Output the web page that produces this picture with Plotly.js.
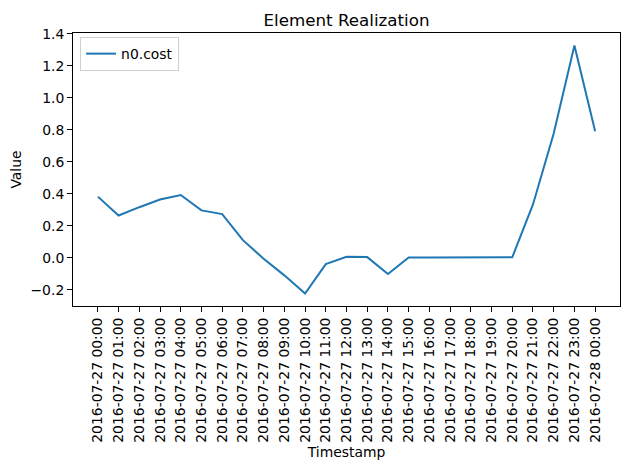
<!DOCTYPE html>
<html><head><meta charset="utf-8">
<script src="https://cdn.plot.ly/plotly-3.0.1.min.js"></script>
<style>body{margin:0;padding:0;background:#fff}</style>
</head><body>
<div id="chart" style="width:630px;height:470px"></div>
<script>
const timestamps = [
  "2016-07-27 00:00","2016-07-27 01:00","2016-07-27 02:00","2016-07-27 03:00",
  "2016-07-27 04:00","2016-07-27 05:00","2016-07-27 06:00","2016-07-27 07:00",
  "2016-07-27 08:00","2016-07-27 09:00","2016-07-27 10:00","2016-07-27 11:00",
  "2016-07-27 12:00","2016-07-27 13:00","2016-07-27 14:00","2016-07-27 15:00",
  "2016-07-27 16:00","2016-07-27 17:00","2016-07-27 18:00","2016-07-27 19:00",
  "2016-07-27 20:00","2016-07-27 21:00","2016-07-27 22:00","2016-07-27 23:00",
  "2016-07-28 00:00"
];
const costValues = [
  0.382, 0.264, 0.316, 0.364, 0.392, 0.296, 0.273, 0.110,
  -0.006, -0.110, -0.224, -0.040, 0.006, 0.004, -0.101, 0.002,
  0.001, 0.001, 0.002, 0.003, 0.003, 0.333, 0.776, 1.327,
  0.790
];
const seriesName = "n0.cost";
const yTicks = [-0.2, 0.0, 0.2, 0.4, 0.6, 0.8, 1.0, 1.2, 1.4];

const font = {family: "DejaVu Sans", size: 13.9, color: "#000"};
const trace = {
  x: timestamps, y: costValues, type: "scatter", mode: "lines",
  name: seriesName, line: {color: "#1f77b4", width: 2}
};
const layout = {
  width: 630, height: 470,
  margin: {l: 73, r: 10, t: 33, b: 164, pad: 0},
  paper_bgcolor: "#fff", plot_bgcolor: "#fff",
  font: font,
  title: {text: "Element Realization", font: {family: "DejaVu Sans", size: 16.7, color: "#000"},
          x: 0.5, xref: "paper", y: 1, yref: "paper", yanchor: "bottom", pad: {b: 7}},
  showlegend: true,
  legend: {x: 0.013, y: 0.985, xanchor: "left", yanchor: "top",
           bordercolor: "#d0d0d0", borderwidth: 1, bgcolor: "rgba(255,255,255,0.8)",
           font: font},
  xaxis: {
    type: "date",
    range: ["2016-07-26 22:48", "2016-07-28 01:12"],
    tickmode: "array", tickvals: timestamps, ticktext: timestamps,
    tickangle: -90,
    ticks: "outside", ticklen: 5, tickcolor: "#000", tickwidth: 1,
    showline: true, linecolor: "#000", linewidth: 1, mirror: true,
    showgrid: false, zeroline: false,
    tickfont: font,
    title: {text: "Timestamp", font: font, standoff: 5}
  },
  yaxis: {
    range: [-0.3015, 1.4045],
    tickmode: "array", tickvals: yTicks,
    tickformat: ".1f",
    ticks: "outside", ticklen: 5, tickcolor: "#000", tickwidth: 1,
    showline: true, linecolor: "#000", linewidth: 1, mirror: true,
    showgrid: false, zeroline: false,
    tickfont: font,
    title: {text: "Value", font: font, standoff: 5}
  }
};
Plotly.newPlot("chart", [trace], layout, {staticPlot: true, displayModeBar: false});
</script>
</body></html>
